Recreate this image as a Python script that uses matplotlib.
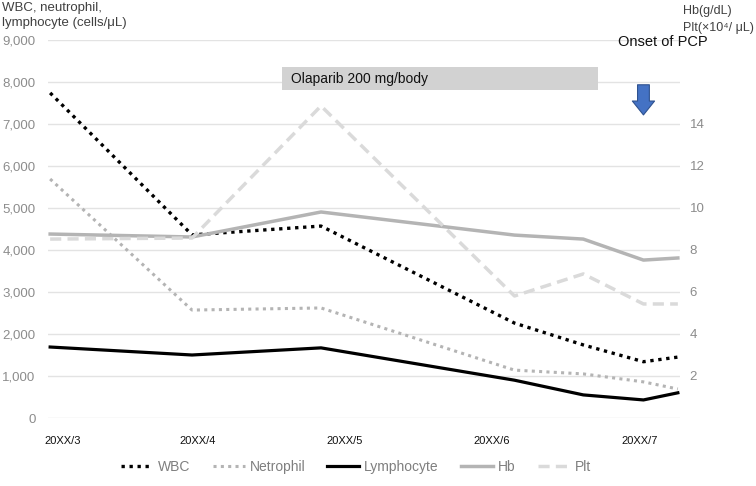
import matplotlib
matplotlib.use("Agg")
import matplotlib.pyplot as plt
from matplotlib.patches import Rectangle

plt.rcParams['font.family'] = ['Liberation Sans', 'DejaVu Sans']

# days from first measurement
days = [0, 33, 63, 108, 124, 138, 146]
wbc = [7740, 4360, 4570, 2260, 1740, 1340, 1450]
neutrophil = [5690, 2570, 2620, 1140, 1050, 860, 690]
lymphocyte = [1690, 1500, 1670, 900, 550, 430, 600]
hb = [8.76, 8.62, 9.81, 8.71, 8.52, 7.52, 7.62]
plt_count = [8.52, 8.57, 14.86, 5.81, 6.86, 5.43, 5.43]

month_pos = [3, 34.4, 68.4, 102.8, 137.2]
month_labels = ['20XX/3', '20XX/4', '20XX/5', '20XX/6', '20XX/7']

left_ticks = [0, 1000, 2000, 3000, 4000, 5000, 6000, 7000, 8000, 9000]
right_ticks = [2, 4, 6, 8, 10, 12, 14]

olaparib_start, olaparib_end = 54, 127.5
onset_day = 138

fig = plt.figure(figsize=(7.56, 4.86), dpi=100)
ax = fig.add_axes([48 / 756, 68 / 486, 632 / 756, 378 / 486])
ax2 = ax.twinx()

ax.set_xlim(-0.5, 146.5)
ax.set_ylim(0, 9000)
ax2.set_ylim(0, 18)

ax.set_yticks(left_ticks)
ax.set_yticklabels([f'{v:,}' for v in left_ticks])
ax2.set_yticks(right_ticks)
ax.set_xticks(month_pos)
ax.set_xticklabels(month_labels)

ax.grid(axis='y', color='#e3e3e3', linewidth=1)
ax.set_axisbelow(True)
for a in (ax, ax2):
    for s in a.spines.values():
        s.set_visible(False)
ax.tick_params(axis='y', length=0, pad=9, labelsize=9.5, labelcolor='#8c8c8c')
ax2.tick_params(axis='y', length=0, pad=7, labelsize=9.5, labelcolor='#8c8c8c')
ax.tick_params(axis='x', length=0, pad=13, labelsize=8, labelcolor='#111111')

l1, = ax.plot(days, wbc, color='black', linestyle=(0, (1, 1.4)), linewidth=2.4, label='WBC')
l2, = ax.plot(days, neutrophil, color='#b4b4b4', linestyle=(0, (1, 1.4)), linewidth=2.2, label='Netrophil')
l3, = ax.plot(days, lymphocyte, color='black', linewidth=2.3, label='Lymphocyte')
l4, = ax2.plot(days, hb, color='#b4b4b4', linewidth=2.5, label='Hb')
l5, = ax2.plot(days, plt_count, color='#dadada', linestyle=(0, (3.2, 1.8)), linewidth=2.5, label='Plt')

# treatment period box
ax.add_patch(Rectangle((olaparib_start, 7800), olaparib_end - olaparib_start, 560,
                       facecolor='#d2d2d2', edgecolor='none', zorder=3))
ax.text(olaparib_start + 2, 8080, 'Olaparib 200 mg/body', fontsize=10, va='center',
        color='#111111', zorder=4)

# onset arrow
ax.annotate('', xy=(onset_day, 7150), xytext=(onset_day, 8000),
            arrowprops=dict(arrowstyle='simple,head_length=1.0,head_width=1.6,tail_width=0.85',
                            facecolor='#4472c4', edgecolor='#2f528f', linewidth=0.8),
            annotation_clip=False, zorder=5)
fig.text(708 / 756, 1 - 42 / 486, 'Onset of PCP', fontsize=10.5, ha='right', va='center',
         color='#111111')

fig.text(0.002, 0.995, 'WBC, neutrophil,\nlymphocyte (cells/\u03bcL)', fontsize=9.5,
         va='top', ha='left', color='#404040', linespacing=1.25)
fig.text(683 / 756, 1 - 5 / 486, 'Hb(g/dL)\nPlt(\u00d710\u2074/ \u03bcL)', fontsize=9,
         va='top', ha='left', color='#404040', linespacing=1.6)

fig.legend(handles=[l1, l2, l3, l4, l5], loc='center', bbox_to_anchor=(356 / 756, 1 - 467 / 486),
           ncol=5, frameon=False, fontsize=10, handlelength=2.3, handletextpad=0.35,
           columnspacing=1.6, labelcolor='#7f7f7f')

fig.savefig('out.png', dpi=100)
